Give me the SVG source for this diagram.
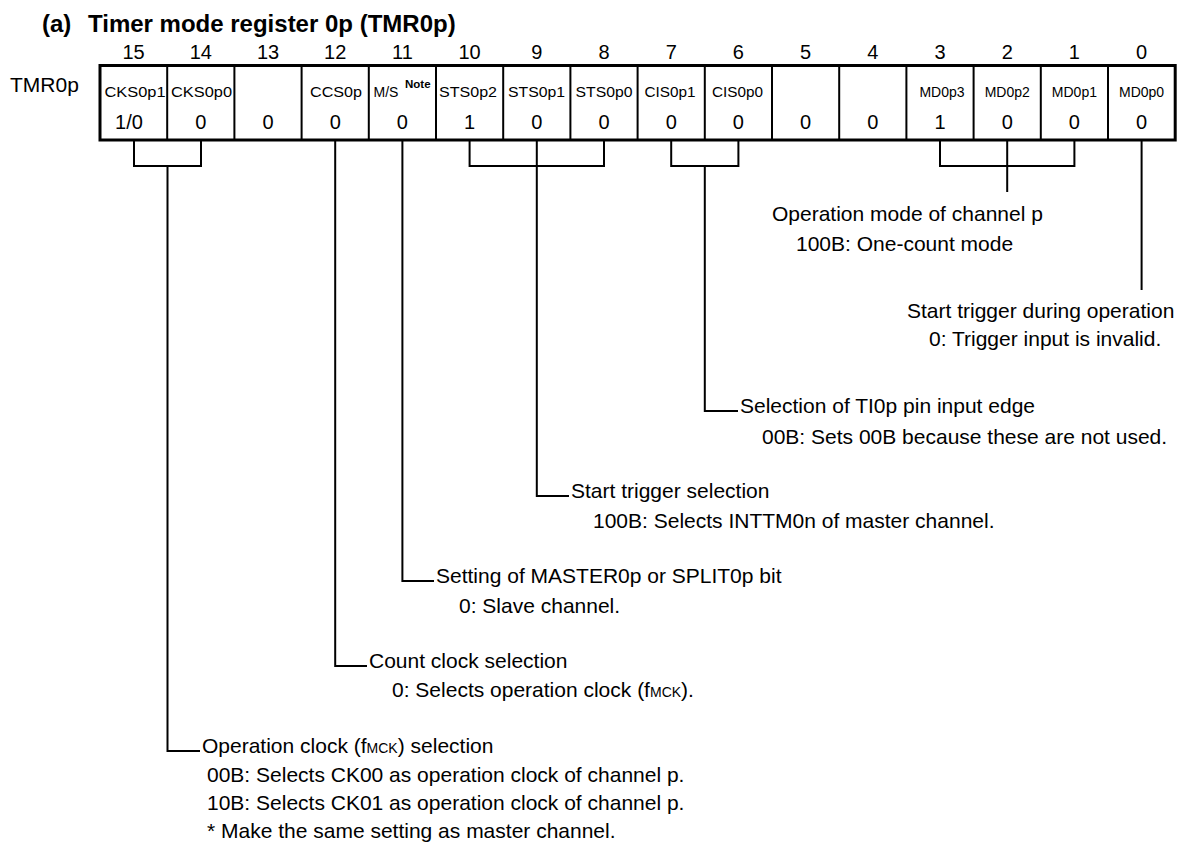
<svg xmlns="http://www.w3.org/2000/svg" width="1181" height="852" viewBox="0 0 1181 852">
<style>
text{font-family:"Liberation Sans",Arial,Helvetica,sans-serif;fill:#000}
.title{font-size:24px;font-weight:bold}
.body{font-size:21px}
.num{font-size:20px;text-anchor:middle}
.lbl{font-size:14px}
.md{font-size:14px;text-anchor:middle}
.sm{font-size:14px}
.note{font-size:11.5px;font-weight:bold}
.box{fill:#fff;stroke:#000;stroke-width:3}
.div{stroke:#000;stroke-width:2}
.conn{stroke:#000;stroke-width:2;fill:none}
</style>
<rect width="1181" height="852" fill="#fff"/>
<g id="title">
<text class="title" x="42" y="32">(a)</text>
<text class="title" x="88" y="32">Timer mode register 0p (TMR0p)</text>
</g>
<g id="bitnumbers">
<text class="num" x="133.6" y="59">15</text>
<text class="num" x="200.8" y="59">14</text>
<text class="num" x="268" y="59">13</text>
<text class="num" x="335.2" y="59">12</text>
<text class="num" x="402.4" y="59">11</text>
<text class="num" x="469.6" y="59">10</text>
<text class="num" x="536.8" y="59">9</text>
<text class="num" x="604" y="59">8</text>
<text class="num" x="671.2" y="59">7</text>
<text class="num" x="738.4" y="59">6</text>
<text class="num" x="805.6" y="59">5</text>
<text class="num" x="872.8" y="59">4</text>
<text class="num" x="940" y="59">3</text>
<text class="num" x="1007.2" y="59">2</text>
<text class="num" x="1074.4" y="59">1</text>
<text class="num" x="1141.6" y="59">0</text>
</g>
<g id="register">
<text class="body" x="10" y="92" font-size="20">TMR0p</text>
<rect class="box" x="100" y="65.5" width="1075.2" height="74.5"/>
<path class="div" d="M167.2,65.5V140M234.4,65.5V140M301.6,65.5V140M368.8,65.5V140M436,65.5V140M503.2,65.5V140M570.4,65.5V140M637.6,65.5V140M704.8,65.5V140M772,65.5V140M839.2,65.5V140M906.4,65.5V140M973.6,65.5V140M1040.8,65.5V140M1108,65.5V140"/>
</g>
<g id="bit15"><text class="lbl" x="104.5" y="97" textLength="61" lengthAdjust="spacingAndGlyphs">CKS0p1</text><text class="num" x="129" y="129">1/0</text></g>
<g id="bit14"><text class="lbl" x="171" y="97" textLength="61" lengthAdjust="spacingAndGlyphs">CKS0p0</text><text class="num" x="200.8" y="129">0</text></g>
<g id="bit13"><text class="num" x="268" y="129">0</text></g>
<g id="bit12"><text class="lbl" x="310" y="97" textLength="52" lengthAdjust="spacingAndGlyphs">CCS0p</text><text class="num" x="335.2" y="129">0</text></g>
<g id="bit11"><text class="lbl" x="373.5" y="97">M/S</text><text class="note" x="405" y="88">Note</text><text class="num" x="402.4" y="129">0</text></g>
<g id="bit10"><text class="lbl" x="439" y="97" textLength="58" lengthAdjust="spacingAndGlyphs">STS0p2</text><text class="num" x="469.6" y="129">1</text></g>
<g id="bit9"><text class="lbl" x="508" y="97" textLength="57" lengthAdjust="spacingAndGlyphs">STS0p1</text><text class="num" x="536.8" y="129">0</text></g>
<g id="bit8"><text class="lbl" x="575.5" y="97" textLength="57" lengthAdjust="spacingAndGlyphs">STS0p0</text><text class="num" x="604" y="129">0</text></g>
<g id="bit7"><text class="lbl" x="644.5" y="97" textLength="51" lengthAdjust="spacingAndGlyphs">CIS0p1</text><text class="num" x="671.2" y="129">0</text></g>
<g id="bit6"><text class="lbl" x="712" y="97" textLength="51" lengthAdjust="spacingAndGlyphs">CIS0p0</text><text class="num" x="738.4" y="129">0</text></g>
<g id="bit5"><text class="num" x="805.6" y="129">0</text></g>
<g id="bit4"><text class="num" x="872.8" y="129">0</text></g>
<g id="bit3"><text class="md" x="942" y="97">MD0p3</text><text class="num" x="940" y="129">1</text></g>
<g id="bit2"><text class="md" x="1007.2" y="97">MD0p2</text><text class="num" x="1007.2" y="129">0</text></g>
<g id="bit1"><text class="md" x="1074.4" y="97">MD0p1</text><text class="num" x="1074.4" y="129">0</text></g>
<g id="bit0"><text class="md" x="1141.6" y="97">MD0p0</text><text class="num" x="1141.6" y="129">0</text></g>
<g id="connectors">
<path class="conn" d="M134,141V166H201V141M167.5,166V751H200"/>
<path class="conn" d="M335.2,141V666H367"/>
<path class="conn" d="M402.4,141V581H434"/>
<path class="conn" d="M469.6,141V166H604V141M536.8,141V496H569"/>
<path class="conn" d="M671.2,141V166H738.4V141M704.8,166V411H738"/>
<path class="conn" d="M940,141V166H1074.4V141M1007.2,141V192"/>
<path class="conn" d="M1141.6,141V290"/>
</g>
<g id="desc-md">
<text class="body" x="772" y="221">Operation mode of channel p</text>
<text class="body" x="796" y="251">100B: One-count mode</text>
</g>
<g id="desc-md0">
<text class="body" x="907" y="318">Start trigger during operation</text>
<text class="body" x="929" y="346">0: Trigger input is invalid.</text>
</g>
<g id="desc-cis">
<text class="body" x="740" y="413">Selection of TI0p pin input edge</text>
<text class="body" x="762" y="444">00B: Sets 00B because these are not used.</text>
</g>
<g id="desc-sts">
<text class="body" x="571" y="498">Start trigger selection</text>
<text class="body" x="593" y="528">100B: Selects INTTM0n of master channel.</text>
</g>
<g id="desc-ms">
<text class="body" x="436" y="583">Setting of MASTER0p or SPLIT0p bit</text>
<text class="body" x="459" y="613">0: Slave channel.</text>
</g>
<g id="desc-ccs">
<text class="body" x="369" y="668">Count clock selection</text>
<text class="body" x="392" y="697">0: Selects operation clock (f<tspan class="sm">MCK</tspan>).</text>
</g>
<g id="desc-cks">
<text class="body" x="202" y="753">Operation clock (f<tspan class="sm">MCK</tspan>) selection</text>
<text class="body" x="207" y="782">00B: Selects CK00 as operation clock of channel p.</text>
<text class="body" x="207" y="810">10B: Selects CK01 as operation clock of channel p.</text>
<text class="body" x="207" y="838">* Make the same setting as master channel.</text>
</g>
</svg>
